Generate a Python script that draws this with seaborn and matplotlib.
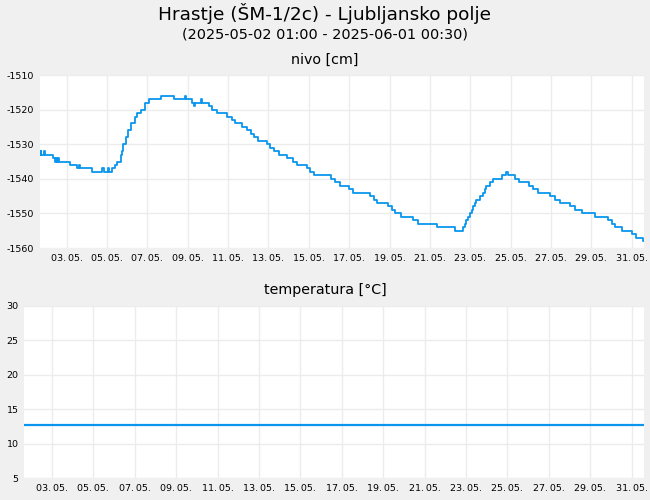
import pandas as pd
import matplotlib.pyplot as plt
import matplotlib.dates as mdates
import seaborn as sns

# nivo [cm], step points
level_times = [
    "2025-05-01 15:40", "2025-05-01 17:00", "2025-05-01 18:00", "2025-05-01 21:00", "2025-05-01 22:00",
    "2025-05-02 08:10", "2025-05-02 10:00", "2025-05-02 11:00", "2025-05-02 12:15", "2025-05-02 14:00",
    "2025-05-02 15:00", "2025-05-03 03:50", "2025-05-03 12:30", "2025-05-03 15:00", "2025-05-03 16:00",
    "2025-05-04 05:30", "2025-05-04 17:30", "2025-05-04 20:00", "2025-05-05 01:00", "2025-05-05 02:00",
    "2025-05-05 06:00", "2025-05-05 09:00", "2025-05-05 12:00", "2025-05-05 16:00", "2025-05-05 17:15",
    "2025-05-05 19:00", "2025-05-05 22:00", "2025-05-06 00:45", "2025-05-06 05:00", "2025-05-06 08:40",
    "2025-05-06 11:30", "2025-05-06 16:30", "2025-05-06 21:40", "2025-05-07 01:40", "2025-05-07 16:00",
    "2025-05-08 08:00", "2025-05-08 21:00", "2025-05-08 22:00", "2025-05-09 05:00", "2025-05-09 08:00",
    "2025-05-09 09:00", "2025-05-09 16:00", "2025-05-09 17:00", "2025-05-10 01:00", "2025-05-10 05:00",
    "2025-05-10 11:00", "2025-05-10 22:50", "2025-05-11 04:50", "2025-05-11 08:00", "2025-05-11 16:00",
    "2025-05-11 22:20", "2025-05-12 03:00", "2025-05-12 06:15", "2025-05-12 12:00", "2025-05-12 22:00",
    "2025-05-13 02:00", "2025-05-13 06:00", "2025-05-13 12:00", "2025-05-13 21:40", "2025-05-14 05:30",
    "2025-05-14 10:30", "2025-05-14 21:20", "2025-05-15 01:00", "2025-05-15 06:15", "2025-05-16 02:00",
    "2025-05-16 07:00", "2025-05-16 13:00", "2025-05-17 00:00", "2025-05-17 04:50", "2025-05-18 00:30",
    "2025-05-18 05:00", "2025-05-18 08:30", "2025-05-18 22:00", "2025-05-19 02:30", "2025-05-19 06:30",
    "2025-05-19 14:00", "2025-05-20 04:00", "2025-05-20 10:00", "2025-05-21 08:00", "2025-05-22 05:45",
    "2025-05-22 15:00", "2025-05-22 18:00", "2025-05-22 19:30", "2025-05-22 21:30", "2025-05-22 23:30",
    "2025-05-23 01:30", "2025-05-23 03:20", "2025-05-23 05:15", "2025-05-23 07:10", "2025-05-23 11:15",
    "2025-05-23 15:00", "2025-05-23 17:15", "2025-05-23 19:10", "2025-05-23 23:00", "2025-05-24 02:30",
    "2025-05-24 14:10", "2025-05-24 19:00", "2025-05-24 21:00", "2025-05-25 04:50", "2025-05-25 10:00",
    "2025-05-25 22:00", "2025-05-26 02:30", "2025-05-26 08:40", "2025-05-26 22:30", "2025-05-27 04:50",
    "2025-05-27 10:30", "2025-05-27 22:30", "2025-05-28 04:50", "2025-05-28 12:30", "2025-05-29 04:20",
    "2025-05-29 20:00", "2025-05-30 01:00", "2025-05-30 04:00", "2025-05-30 13:00", "2025-05-31 00:00",
    "2025-05-31 04:50", "2025-05-31 13:40", "2025-05-31 14:40",
]
level_values = [
    -1533, -1532, -1533, -1532, -1533,
    -1534, -1535, -1534, -1535, -1534,
    -1535, -1536, -1537, -1536, -1537,
    -1538, -1537, -1538, -1537, -1538,
    -1537, -1536, -1535, -1533, -1532,
    -1530, -1528, -1526, -1524, -1522,
    -1521, -1520, -1518, -1517, -1516,
    -1517, -1516, -1517, -1518, -1519,
    -1518, -1517, -1518, -1519, -1520,
    -1521, -1522, -1523, -1524, -1525,
    -1526, -1527, -1528, -1529, -1530,
    -1531, -1532, -1533, -1534, -1535,
    -1536, -1537, -1538, -1539, -1540,
    -1541, -1542, -1543, -1544, -1545,
    -1546, -1547, -1548, -1549, -1550,
    -1551, -1552, -1553, -1554, -1555,
    -1554, -1553, -1552, -1551, -1550,
    -1549, -1548, -1547, -1546, -1545,
    -1544, -1543, -1542, -1541, -1540,
    -1539, -1538, -1539, -1540, -1541,
    -1542, -1543, -1544, -1545, -1546,
    -1547, -1548, -1549, -1550, -1551,
    -1552, -1553, -1554, -1555, -1556,
    -1557, -1558, -1558,
]

# temperatura [°C]
temp_times = ["2025-05-01 15:40", "2025-05-31 14:40"]
temp_values = [12.7, 12.7]

level_ticks = [-1560, -1550, -1540, -1530, -1520, -1510]
temp_ticks = [5, 10, 15, 20, 25, 30]
date_ticks = pd.date_range("2025-05-03", "2025-05-31", freq="2D")

title = "Hrastje (ŠM-1/2c) - Ljubljansko polje"
subtitle = "(2025-05-02 01:00 - 2025-06-01 00:30)"
level_label = "nivo [cm]"
temp_label = "temperatura [°C]"

line_color = "#0a96ee"
bg = "#f0f0f0"
x_start = pd.Timestamp("2025-05-01 15:40")
x_end = pd.Timestamp("2025-05-31 14:40")

sns.set_style("whitegrid")
plt.rcParams['font.family'] = ['DejaVu Sans']
plt.rcParams['text.color'] = 'black'

fig = plt.figure(figsize=(6.5, 5), dpi=100, facecolor=bg)
ax1 = fig.add_axes([0.0608, 0.504, 0.930, 0.346])
ax2 = fig.add_axes([0.037, 0.044, 0.954, 0.3446])

level_df = pd.DataFrame({"time": pd.to_datetime(level_times), "nivo": level_values})
temp_df = pd.DataFrame({"time": pd.to_datetime(temp_times), "temp": temp_values})

sns.lineplot(data=level_df, x="time", y="nivo", ax=ax1, color=line_color,
             linewidth=1.3, drawstyle="steps-post", estimator=None)
sns.lineplot(data=temp_df, x="time", y="temp", ax=ax2, color=line_color,
             linewidth=1.6, estimator=None)

for ax, ticks in [(ax1, level_ticks), (ax2, temp_ticks)]:
    ax.set_facecolor("white")
    ax.set_xlim(x_start, x_end)
    ax.set_ylim(ticks[0], ticks[-1])
    ax.set_yticks(ticks)
    ax.set_yticklabels([str(t) for t in ticks])
    ax.set_xticks(date_ticks)
    ax.xaxis.set_major_formatter(mdates.DateFormatter("%d.\u2009%m."))
    ax.grid(True, color="#ececec", linewidth=1)
    ax.tick_params(axis="both", length=0, labelsize=6.8, pad=4, colors="black")
    ax.set_xlabel("")
    ax.set_ylabel("")
    for s in ax.spines.values():
        s.set_visible(False)

fig.text(0.5, 0.973, title, ha="center", va="center", fontsize=13.3)
fig.text(0.5, 0.930, subtitle, ha="center", va="center", fontsize=10.4)
fig.text(0.5, 0.880, level_label, ha="center", va="center", fontsize=10.3)
fig.text(0.5, 0.420, temp_label, ha="center", va="center", fontsize=10.3)

plt.savefig("out.png", dpi=100, facecolor=bg)
